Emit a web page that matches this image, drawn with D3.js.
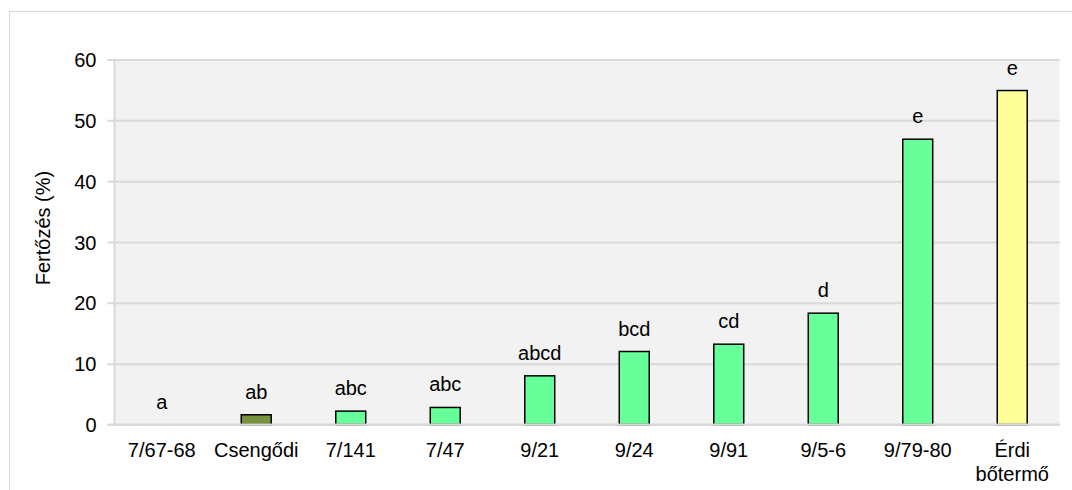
<!DOCTYPE html>
<html>
<head>
<meta charset="utf-8">
<script src="https://cdnjs.cloudflare.com/ajax/libs/d3/7.8.5/d3.min.js"></script>
<style>
  body { margin: 0; background: #fff; }
  text { font-family: "Liberation Sans", Arial, sans-serif; fill: #000; }
</style>
</head>
<body>
<div id="chart"></div>
<script>
// Data
var categories = ["7/67-68", "Csengődi", "7/141", "7/47", "9/21", "9/24", "9/91", "9/5-6", "9/79-80", "Érdi\nbőtermő"];
var values = [0, 1.6, 2.2, 2.8, 8.0, 12.0, 13.2, 18.3, 46.9, 54.9];
var letters = ["a", "ab", "abc", "abc", "abcd", "bcd", "cd", "d", "e", "e"];
var barColors = ["#66ff99", "#77933c", "#66ff99", "#66ff99", "#66ff99", "#66ff99", "#66ff99", "#66ff99", "#66ff99", "#ffff99"];
var yTicks = [0, 10, 20, 30, 40, 50, 60];

var width = 1072, height = 490;
var plot = {left: 114.5, right: 1059.5, top: 59.5, bottom: 424.5};

var svg = d3.select("#chart").append("svg")
    .attr("width", width)
    .attr("height", height);

// chart border
svg.append("rect")
    .attr("x", 9.5).attr("y", 11.5)
    .attr("width", 1100).attr("height", 500)
    .attr("fill", "#fff")
    .attr("stroke", "#d9d9d9")
    .attr("stroke-width", 1);

var x = d3.scaleBand()
    .domain(categories)
    .range([plot.left, plot.right])
    .paddingInner(0.683)
    .paddingOuter(0.683 / 2);

var y = d3.scaleLinear()
    .domain([0, 60])
    .range([plot.bottom, plot.top]);

// plot area
svg.append("rect")
    .attr("x", plot.left).attr("y", plot.top)
    .attr("width", plot.right - plot.left)
    .attr("height", plot.bottom - plot.top)
    .attr("fill", "#f2f2f2");

// gridlines + ticks
var yAxis = d3.axisLeft(y)
    .tickValues(yTicks)
    .tickSize(-(plot.right - plot.left))
    .tickPadding(18);

var gy = svg.append("g")
    .attr("transform", "translate(" + plot.left + ",0)")
    .call(yAxis);
gy.select(".domain").remove();
gy.selectAll("line")
    .attr("x1", -7)
    .attr("stroke", "#d9d9d9")
    .attr("stroke-width", 2);
gy.selectAll("text")
    .style("font-size", "20px")
    .style("font-family", "'Liberation Sans', Arial, sans-serif")
    .attr("dy", "0.35em");

// y axis line
svg.append("line")
    .attr("x1", plot.left).attr("x2", plot.left)
    .attr("y1", plot.top).attr("y2", plot.bottom)
    .attr("stroke", "#d9d9d9")
    .attr("stroke-width", 2);

// bars
var data = categories.map(function(c, i) {
    return {cat: c, value: values[i], letter: letters[i], color: barColors[i]};
});

svg.selectAll(".bar")
    .data(data.filter(function(d) { return d.value > 0; }))
    .enter().append("rect")
    .attr("class", "bar")
    .attr("x", function(d) { return x(d.cat); })
    .attr("y", function(d) { return y(d.value); })
    .attr("width", x.bandwidth())
    .attr("height", function(d) { return y(0) - y(d.value); })
    .attr("fill", function(d) { return d.color; })
    .attr("stroke", "#000")
    .attr("stroke-width", 1.5);

// x axis line
svg.append("line")
    .attr("x1", plot.left - 7).attr("x2", plot.right)
    .attr("y1", plot.bottom).attr("y2", plot.bottom)
    .attr("stroke", "#d9d9d9")
    .attr("stroke-width", 2);

// significance letters
svg.selectAll(".letter")
    .data(data)
    .enter().append("text")
    .attr("class", "letter")
    .attr("x", function(d) { return x(d.cat) + x.bandwidth() / 2; })
    .attr("y", function(d) { return y(d.value) - 16; })
    .attr("text-anchor", "middle")
    .style("font-size", "20px")
    .text(function(d) { return d.letter; });

// category labels
var catLabels = svg.selectAll(".cat")
    .data(categories)
    .enter().append("text")
    .attr("class", "cat")
    .attr("x", function(d) { return x(d) + x.bandwidth() / 2; })
    .attr("y", 457)
    .attr("text-anchor", "middle")
    .style("font-size", "20px");
catLabels.each(function(d) {
    var t = d3.select(this);
    var cx = x(d) + x.bandwidth() / 2;
    d.split("\n").forEach(function(line, i) {
        t.append("tspan").attr("x", cx).attr("dy", i === 0 ? 0 : 24).text(line);
    });
});

// y title
svg.append("text")
    .attr("transform", "translate(50,228) rotate(-90)")
    .attr("text-anchor", "middle")
    .style("font-size", "20px")
    .text("Fertőzés (%)");
</script>
</body>
</html>
